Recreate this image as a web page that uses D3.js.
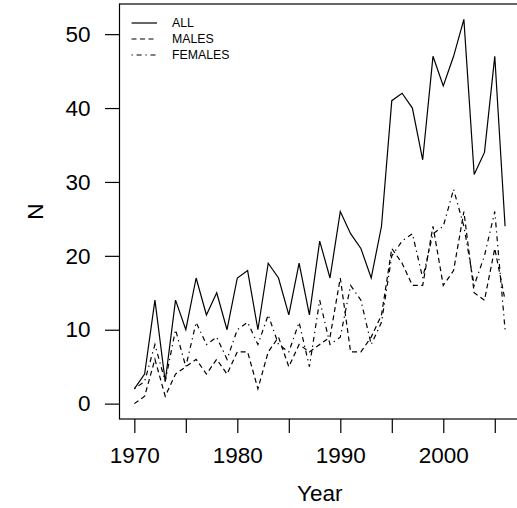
<!DOCTYPE html>
<html>
<head>
<meta charset="utf-8">
<script src="https://cdn.jsdelivr.net/npm/d3@7"></script>
<style>
  html, body { margin: 0; padding: 0; background: #fff; }
  svg { display: block; font-family: "Liberation Sans", Arial, Helvetica, sans-serif; }
</style>
</head>
<body>
<svg id="chart" width="517" height="508"></svg>
<script>
// data
const years = [1970, 1971, 1972, 1973, 1974, 1975, 1976, 1977, 1978, 1979,
  1980, 1981, 1982, 1983, 1984, 1985, 1986, 1987, 1988, 1989,
  1990, 1991, 1992, 1993, 1994, 1995, 1996, 1997, 1998, 1999,
  2000, 2001, 2002, 2003, 2004, 2005, 2006];
const allN = [2, 4, 14, 3, 14, 10, 17, 12, 15, 10,
  17, 18, 10, 19, 17, 12, 19, 12, 22, 17,
  26, 23, 21, 17, 24, 41, 42, 40, 33, 47,
  43, 47, 52, 31, 34, 47, 24];
const malesN = [0, 1, 6, 1, 4, 5, 6, 4, 6, 4,
  7, 7, 2, 7, 9, 5, 8, 7, 8, 9,
  17, 7, 7, 9, 12, 21, 19, 16, 16, 24,
  16, 18, 26, 15, 14, 21, 14];
const femalesN = [2, 3, 8, 3, 10, 5, 11, 8, 9, 6,
  10, 11, 8, 12, 8, 7, 11, 5, 14, 8,
  9, 16, 14, 8, 11, 20, 22, 23, 17, 23,
  24, 29, 24, 16, 20, 26, 10];

const xTicks = [1970, 1975, 1980, 1985, 1990, 1995, 2000, 2005];
const xLabelYears = [1970, 1980, 1990, 2000];
const yTicks = [0, 10, 20, 30, 40, 50];

const seriesNames = ['ALL', 'MALES', 'FEMALES'];
const dashes = [null, '5,3.5', '1.3,3.8,5,3.8'];

(function drawChart() {
  const svg = d3.select('#chart');
  const plot = { left: 119.5, right: 519.9, top: 4, bottom: 419 };

  // R style 4% padding on both axes
  const xPad = (d3.max(years) - d3.min(years)) * 0.04;
  const yPad = (d3.max(allN) - 0) * 0.04;
  const x = d3.scaleLinear()
    .domain([d3.min(years) - xPad, d3.max(years) + xPad])
    .range([plot.left, plot.right]);
  const y = d3.scaleLinear()
    .domain([0 - yPad, d3.max(allN) + yPad])
    .range([plot.bottom, plot.top]);

  const series = [allN, malesN, femalesN].map((vals, i) => ({
    name: seriesNames[i],
    dash: dashes[i],
    values: vals.map((v, j) => ({ year: years[j], n: v }))
  }));

  const line = d3.line()
    .x((d) => x(d.year))
    .y((d) => y(d.n));

  svg.append('g')
    .selectAll('path')
    .data(series)
    .join('path')
    .attr('d', (d) => line(d.values))
    .attr('fill', 'none')
    .attr('stroke', '#000')
    .attr('stroke-width', 1.2)
    .attr('stroke-dasharray', (d) => d.dash);

  // frame
  svg.append('rect')
    .attr('x', plot.left)
    .attr('y', plot.top)
    .attr('width', plot.right - plot.left)
    .attr('height', plot.bottom - plot.top)
    .attr('fill', 'none')
    .attr('stroke', '#000')
    .attr('stroke-width', 1.2);

  const xAxis = svg.append('g')
    .attr('transform', `translate(0,${plot.bottom})`)
    .call(d3.axisBottom(x)
      .tickValues(xTicks)
      .tickSize(14)
      .tickPadding(14)
      .tickFormat((d) => xLabelYears.includes(d) ? d3.format('d')(d) : ''));

  const yAxis = svg.append('g')
    .attr('transform', `translate(${plot.left},0)`)
    .call(d3.axisLeft(y)
      .tickValues(yTicks)
      .tickSize(14.5)
      .tickPadding(14.5));

  [xAxis, yAxis].forEach((g) => {
    g.select('.domain').remove();
    g.selectAll('line').attr('stroke', '#000').attr('stroke-width', 1.2);
    g.selectAll('text')
      .attr('fill', '#000')
      .style('font-size', '22.5px')
      .style('font-family', '"Liberation Sans", Arial, Helvetica, sans-serif');
  });

  // axis titles
  svg.append('text')
    .attr('x', (plot.left + plot.right) / 2)
    .attr('y', 501)
    .attr('text-anchor', 'middle')
    .style('font-size', '22.5px')
    .text('Year');

  svg.append('text')
    .attr('transform', `translate(43,${(plot.top + plot.bottom) / 2}) rotate(-90)`)
    .attr('text-anchor', 'middle')
    .style('font-size', '22.5px')
    .text('N');

  // legend
  const legend = svg.append('g')
    .selectAll('g')
    .data(series)
    .join('g')
    .attr('transform', (d, i) => `translate(0,${23 + i * 16})`);

  legend.append('line')
    .attr('x1', 131.5)
    .attr('x2', 157)
    .attr('stroke', '#000')
    .attr('stroke-width', 1.2)
    .attr('stroke-dasharray', (d) => d.dash);

  legend.append('text')
    .attr('x', 172)
    .attr('dy', '0.36em')
    .style('font-size', '12.3px')
    .text((d) => d.name);
})();
</script>
</body>
</html>
